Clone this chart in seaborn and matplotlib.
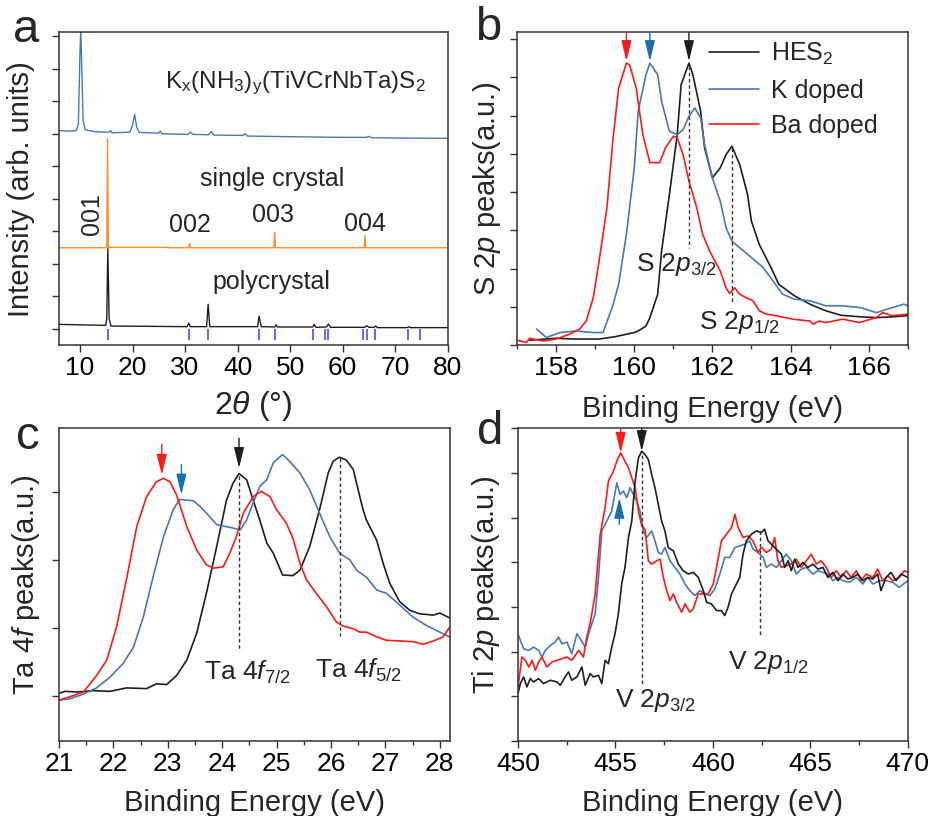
import numpy as np
import pandas as pd
import matplotlib
matplotlib.use("Agg")
import matplotlib.pyplot as plt
import seaborn as sns
from matplotlib.ticker import MultipleLocator, NullFormatter

sns.set_style("ticks")
plt.rcParams['font.family'] = ['Liberation Sans', 'DejaVu Sans']
plt.rcParams['mathtext.fontset'] = 'custom'
plt.rcParams['mathtext.rm'] = 'Liberation Sans'
plt.rcParams['mathtext.it'] = 'Liberation Sans:italic'
plt.rcParams['mathtext.default'] = 'regular'

# ---------------- data: panel a (XRD) ----------------
xrd_k_x = [6, 8, 9.3, 9.7, 10.0, 10.15, 10.35, 10.6, 11.0, 13, 15.5, 15.8, 16.1, 19.5, 20.0, 20.4, 20.8, 21.3,
           25, 25.3, 25.6, 30.5, 31, 31.5, 34.5, 35, 35.5, 41, 41.4, 41.9, 50, 60, 64.5, 65, 65.5, 70, 80]
xrd_k_y = [6.1, 6.08, 6.1, 6.3, 8.5, 9.2, 8.0, 6.4, 6.12, 6.06, 6.05, 6.1, 6.03, 6.05, 6.25, 6.6, 6.2, 6.04,
           6.02, 6.08, 6.0, 5.98, 6.05, 5.98, 5.97, 6.07, 5.96, 5.95, 6.0, 5.93, 5.91, 5.89, 5.89, 5.92, 5.88, 5.87, 5.86]
xrd_sc_x = [6, 15.1, 15.25, 15.4, 26.5, 26.7, 26.9, 30.7, 30.85, 31.0, 46.9, 47.05, 47.2, 64.1, 64.25, 64.4, 80]
xrd_sc_y = [2.49, 2.49, 5.85, 2.5, 2.5, 2.52, 2.49, 2.49, 2.62, 2.49, 2.49, 2.97, 2.49, 2.49, 2.87, 2.49, 2.49]
xrd_pc_x = [6, 14.9, 15.1, 15.3, 15.55, 15.9, 30.4, 30.7, 31.0, 34.1, 34.4, 34.7, 43.8, 44.1, 44.5, 47.1, 47.3, 47.6,
            54.3, 54.6, 54.9, 56.9, 57.3, 57.7, 64.2, 64.6, 65.0, 66.0, 66.3, 66.6, 72.3, 72.6, 72.9, 80]
xrd_pc_y = [0.13, 0.1, 0.3, 2.46, 0.3, 0.08, 0.06, 0.17, 0.06, 0.06, 0.75, 0.06, 0.06, 0.38, 0.06, 0.05, 0.12, 0.05,
            0.05, 0.13, 0.04, 0.05, 0.14, 0.04, 0.04, 0.09, 0.04, 0.04, 0.08, 0.03, 0.03, 0.06, 0.03, 0.03]
ref_peaks = [15.3, 30.7, 34.4, 44.1, 47.2, 54.4, 56.6, 57.3, 63.9, 64.6, 66.2, 72.5, 74.8]
hkl_labels = ["001", "002", "003", "004"]

# ---------------- data: panel b (S 2p) ----------------
s_hes_x = [157.32, 158.0, 158.5, 159.1, 159.5, 160.0, 160.1, 160.3, 160.4, 160.6, 160.7, 160.9, 161.1, 161.2, 161.4,
           161.5, 161.7, 161.8, 162.0, 162.2, 162.35, 162.5, 162.7, 162.9, 163.0, 163.2, 163.5, 163.7, 164.1, 164.5,
           164.9, 165.3, 165.8, 166.2, 166.6, 167.0]
s_hes_y = [0.13, 0.18, 0.16, 0.16, 0.22, 0.33, 0.37, 0.5, 0.72, 1.33, 2.46, 3.94, 5.5, 6.81, 7.37, 7.07, 6.11, 5.16,
           4.37, 4.63, 4.98, 5.2, 4.72, 3.94, 3.24, 2.63, 2.03, 1.59, 1.29, 1.07, 0.9, 0.78, 0.74, 0.72, 0.74, 0.77]
s_k_x = [157.5, 157.75, 158.1, 158.5, 158.95, 159.2, 159.45, 159.6, 159.8, 160.0, 160.1, 160.3, 160.4, 160.6, 160.7,
         160.9, 161.1, 161.25, 161.4, 161.55, 161.7, 161.8, 162.0, 162.2, 162.35, 162.5, 162.8, 163.0, 163.3, 163.55,
         163.8, 164.1, 164.5, 164.9, 165.3, 165.8, 166.2, 166.6, 166.9, 167.0]
s_k_y = [0.42, 0.2, 0.33, 0.37, 0.33, 0.33, 1.03, 1.59, 2.9, 4.63, 6.11, 7.07, 7.37, 7.07, 6.37, 5.59, 5.5, 5.63,
         5.98, 6.2, 5.94, 5.24, 4.37, 3.77, 3.07, 2.72, 2.46, 2.29, 2.03, 1.68, 1.33, 1.2, 1.16, 1.03, 1.03, 0.98,
         0.85, 0.98, 1.07, 1.03]
s_ba_x = [157.0, 157.24, 157.32, 157.66, 158.0, 158.35, 158.6, 158.77, 158.95, 159.1, 159.3, 159.45, 159.6, 159.8,
          159.88, 160.05, 160.22, 160.4, 160.65, 160.8, 161.0, 161.1, 161.25, 161.4, 161.6, 161.75, 161.93, 162.2,
          162.35, 162.44, 162.57, 162.7, 162.87, 163.04, 163.2, 163.38, 163.63, 164.06, 164.5, 164.57, 164.74, 164.9,
          165.34, 165.76, 166.19, 166.36, 166.6, 167.0]
s_ba_y = [0.13, 0.07, 0.18, 0.11, 0.16, 0.29, 0.42, 0.63, 1.24, 2.2, 3.59, 5.33, 6.72, 7.37, 7.33, 6.72, 5.5, 4.77,
          4.77, 5.16, 5.46, 5.42, 4.98, 4.29, 3.59, 2.9, 2.46, 1.94, 1.5, 1.35, 1.5, 1.33, 1.24, 1.16, 0.9, 0.81,
          0.77, 0.68, 0.63, 0.55, 0.63, 0.59, 0.68, 0.59, 0.72, 0.85, 0.77, 0.81]
s_peaks = [161.4, 162.5]
s_shift = {"Ba": 159.8, "K": 160.4, "HES": 161.4}

# ---------------- data: panel c (Ta 4f) ----------------
ta_hes_x = [21.0, 21.11, 21.32, 21.63, 21.94, 22.24, 22.61, 22.79, 22.98, 23.16, 23.35, 23.53, 23.71, 23.9, 24.08,
            24.2, 24.31, 24.45, 24.57, 24.69, 24.82, 24.94, 25.11, 25.3, 25.43, 25.61, 25.79, 25.95, 26.04, 26.15,
            26.28, 26.41, 26.53, 26.59, 26.65, 26.84, 26.96, 27.08, 27.26, 27.45, 27.63, 27.88, 28.0, 28.18]
ta_hes_y = [0.04, 0.07, 0.06, 0.08, 0.07, 0.12, 0.11, 0.18, 0.17, 0.3, 0.53, 0.92, 1.51, 2.2, 2.88, 3.13, 3.27,
            3.18, 2.88, 2.59, 2.25, 2.1, 1.78, 1.77, 1.85, 2.2, 2.74, 3.28, 3.45, 3.51, 3.47, 3.33, 2.93, 2.74, 2.59,
            2.29, 1.95, 1.66, 1.39, 1.26, 1.21, 1.19, 1.22, 1.15]
ta_k_x = [21.0, 21.2, 21.45, 21.69, 21.94, 22.18, 22.37, 22.55, 22.73, 22.92, 23.1, 23.22, 23.35, 23.47, 23.59,
          23.71, 23.9, 24.08, 24.2, 24.33, 24.45, 24.57, 24.69, 24.82, 24.94, 25.11, 25.24, 25.43, 25.61, 25.79,
          25.98, 26.16, 26.35, 26.47, 26.65, 26.84, 27.02, 27.26, 27.51, 27.75, 28.0, 28.18]
ta_k_y = [-0.06, -0.04, 0.03, 0.12, 0.28, 0.48, 0.72, 1.16, 1.75, 2.34, 2.74, 2.89, 2.88, 2.87, 2.79, 2.69, 2.52,
          2.49, 2.47, 2.44, 2.59, 2.84, 3.08, 3.18, 3.43, 3.55, 3.45, 3.28, 3.03, 2.69, 2.34, 2.1, 2.0, 1.85, 1.75,
          1.56, 1.51, 1.34, 1.16, 1.04, 0.94, 0.87]
ta_ba_x = [21.0, 21.2, 21.45, 21.69, 21.88, 22.06, 22.24, 22.43, 22.61, 22.79, 22.92, 23.04, 23.16, 23.35, 23.53,
           23.71, 23.84, 24.02, 24.14, 24.26, 24.39, 24.57, 24.72, 24.88, 25.0, 25.18, 25.3, 25.43, 25.55, 25.73,
           25.92, 26.1, 26.22, 26.41, 26.53, 26.65, 26.84, 27.02, 27.26, 27.51, 27.69, 27.88, 28.06, 28.18]
ta_ba_y = [-0.06, -0.01, 0.06, 0.3, 0.53, 1.02, 1.71, 2.49, 2.93, 3.15, 3.2, 3.15, 2.96, 2.49, 2.15, 1.93, 1.88,
           1.9, 2.1, 2.34, 2.69, 2.93, 3.01, 2.93, 2.74, 2.54, 2.32, 1.95, 1.71, 1.51, 1.31, 1.09, 1.03, 0.99, 0.94,
           0.94, 0.87, 0.82, 0.81, 0.8, 0.76, 0.81, 0.87, 1.01]
ta_peaks = [24.31, 26.17]
ta_shift = {"Ba": 22.89, "K": 23.25, "HES": 24.31}

# ---------------- data: panel d (Ti 2p / V 2p) ----------------
ti_hes_x = [450.00, 450.12, 450.29, 450.46, 450.63, 450.80, 451.06, 451.31, 451.66, 452.00, 452.17, 452.42, 452.59,
            452.76, 453.02, 453.28, 453.45, 453.70, 453.87, 454.13, 454.30, 454.47, 454.64, 454.81, 454.98, 455.15,
            455.32, 455.49, 455.67, 455.84, 456.01, 456.18, 456.35, 456.52, 456.69, 456.86, 457.03, 457.20, 457.37,
            457.54, 457.71, 457.97, 458.23, 458.48, 458.74, 459.00, 459.25, 459.51, 459.68, 459.93, 460.19, 460.44,
            460.61, 460.78, 460.96, 461.21, 461.38, 461.55, 461.72, 461.98, 462.24, 462.49, 462.66, 462.83, 463.00,
            463.17, 463.34, 463.52, 463.69, 463.86, 464.03, 464.20, 464.37, 464.62, 464.88, 465.14, 465.39, 465.65,
            465.90, 466.16, 466.42, 466.67, 466.93, 467.18, 467.44, 467.70, 467.95, 468.21, 468.46, 468.63, 468.89,
            469.15, 469.40, 469.66, 470.00]
ti_hes_y = [8, 38, 58, 28, 53, 43, 53, 38, 48, 43, 33, 58, 73, 48, 58, 88, 33, 68, 58, 63, 38, 108, 98, 148, 188,
            248, 338, 388, 478, 528, 648, 718, 738, 728, 713, 668, 628, 578, 528, 498, 448, 438, 398, 378, 368, 373,
            358, 318, 283, 278, 258, 258, 243, 268, 308, 338, 358, 428, 468, 488, 498, 493, 503, 468, 458, 448, 438,
            428, 388, 408, 378, 413, 388, 403, 388, 398, 383, 388, 358, 373, 348, 368, 353, 358, 368, 348, 358, 353,
            368, 318, 358, 373, 348, 368, 358]
ti_k_x = [450.00, 450.12, 450.29, 450.55, 450.80, 451.06, 451.23, 451.40, 451.66, 451.91, 452.08, 452.25, 452.51,
          452.76, 453.02, 453.19, 453.45, 453.62, 453.79, 453.96, 454.13, 454.30, 454.56, 454.81, 455.07, 455.24,
          455.41, 455.58, 455.75, 455.92, 456.09, 456.26, 456.43, 456.60, 456.86, 457.03, 457.20, 457.37, 457.54,
          457.80, 458.05, 458.31, 458.57, 458.82, 459.08, 459.33, 459.59, 459.85, 460.10, 460.36, 460.61, 460.87,
          461.13, 461.38, 461.64, 461.89, 462.06, 462.32, 462.58, 462.75, 463.00, 463.26, 463.52, 463.77, 464.03,
          464.28, 464.54, 464.80, 465.14, 465.39, 465.65, 465.90, 466.16, 466.42, 466.67, 467.01, 467.36, 467.70,
          467.95, 468.21, 468.55, 468.89, 469.23, 469.57, 470.00]
ti_k_y = [188, 168, 143, 138, 148, 138, 118, 138, 153, 163, 178, 158, 163, 128, 188, 173, 148, 188, 218, 248, 358,
          498, 528, 558, 643, 608, 618, 598, 628, 608, 588, 558, 498, 478, 498, 468, 433, 428, 448, 408, 388, 368,
          338, 318, 303, 318, 308, 303, 323, 368, 418, 418, 448, 453, 458, 468, 443, 433, 418, 388, 398, 388, 408,
          428, 408, 368, 383, 388, 368, 378, 373, 368, 348, 358, 348, 343, 358, 338, 358, 338, 348, 348, 343, 328, 348]
ti_ba_x = [450.00, 450.20, 450.38, 450.55, 450.72, 450.89, 451.06, 451.23, 451.48, 451.74, 452.00, 452.25, 452.51,
           452.76, 452.94, 453.11, 453.36, 453.53, 453.70, 453.96, 454.22, 454.47, 454.64, 454.90, 455.07, 455.27,
           455.49, 455.67, 455.84, 456.01, 456.18, 456.35, 456.52, 456.69, 456.86, 457.12, 457.29, 457.46, 457.63,
           457.80, 457.97, 458.14, 458.40, 458.57, 458.82, 458.99, 459.25, 459.51, 459.76, 460.02, 460.19, 460.44,
           460.70, 460.96, 461.13, 461.30, 461.55, 461.81, 462.06, 462.32, 462.49, 462.75, 463.00, 463.17, 463.34,
           463.52, 463.77, 464.03, 464.28, 464.54, 464.80, 465.05, 465.31, 465.56, 465.82, 466.07, 466.33, 466.59,
           466.84, 467.10, 467.36, 467.61, 467.87, 468.21, 468.46, 468.72, 468.98, 469.23, 469.57, 469.83, 470.00]
ti_ba_y = [28, 118, 108, 88, 108, 78, 103, 118, 88, 103, 108, 113, 118, 108, 123, 138, 118, 178, 218, 308, 488, 568,
           648, 678, 708, 733, 708, 688, 658, 628, 558, 513, 503, 408, 398, 408, 413, 358, 318, 288, 308, 283, 253,
           278, 253, 263, 308, 308, 308, 338, 388, 468, 488, 508, 548, 508, 478, 483, 468, 433, 448, 433, 443, 478,
           408, 388, 393, 398, 413, 388, 408, 428, 398, 408, 388, 358, 378, 358, 378, 358, 378, 348, 368, 358, 383,
           348, 363, 348, 358, 378, 373]
v_peaks = [456.35, 462.44]
ti_shift = {"Ba": 455.27, "K": 455.2, "HES": 456.35}

labels = ["HES$_2$", "K doped", "Ba doped"]
C_BLACK = "#1e1e1e"
C_BLUE = "#4a78ae"
C_RED = "#ff1a1a"
C_ORANGE = "#ff8c2e"
C_REF = "#4b4bff"
C_ARROW_BLUE = "#1b6db3"

TICK_FS = 19
LABEL_FS = 21
ANN_FS = 17.5
XPS_FS = 19

fig = plt.figure(figsize=(9.3, 8.16), dpi=100)
ax_a = fig.add_axes([0.0634, 0.577, 0.418, 0.3836])
ax_b = fig.add_axes([0.556, 0.577, 0.420, 0.3836])
ax_c = fig.add_axes([0.0634, 0.0919, 0.420, 0.3836])
ax_d = fig.add_axes([0.557, 0.0919, 0.419, 0.3836])

for ax in (ax_a, ax_b, ax_c, ax_d):
    for sp in ax.spines.values():
        sp.set_linewidth(1.1)
        sp.set_color("#333333")
    ax.tick_params(direction="out", length=5, width=1.0, colors="#333333",
                   labelsize=TICK_FS, labelcolor="black", pad=3)
    ax.tick_params(which="minor", direction="out", length=3, width=1.0, colors="#333333")
    ax.yaxis.set_major_formatter(NullFormatter())

LW = 1.2

# ---- panel a ----
sns.lineplot(x=xrd_k_x, y=xrd_k_y, ax=ax_a, color=C_BLUE, lw=1.0, sort=False, estimator=None)
sns.lineplot(x=xrd_sc_x, y=xrd_sc_y, ax=ax_a, color=C_ORANGE, lw=1.0, sort=False, estimator=None)
sns.lineplot(x=xrd_pc_x, y=xrd_pc_y, ax=ax_a, color=C_BLACK, lw=1.0, sort=False, estimator=None)
ax_a.vlines(ref_peaks, -0.36, 0.0, color=C_REF, lw=1.2)
ax_a.set_xlim(6, 80)
ax_a.set_ylim(-0.51, 9.13)
ax_a.set_xticks(range(10, 81, 10))
ax_a.set_yticks(range(0, 10))
ax_a.set_xlabel(r"2$\mathit{\theta}$ (°)", fontsize=LABEL_FS + 2)
ax_a.xaxis.set_label_coords(0.5, -0.14)
ax_a.set_ylabel("Intensity (arb. units)", fontsize=LABEL_FS)
ax_a.yaxis.set_label_coords(-0.062, 0.5)
ax_a.text(26.2, 7.54, r"K$_\mathrm{x}$(NH$_3$)$_\mathrm{y}$(TiVCrNbTa)S$_2$", fontsize=ANN_FS,
          ha="left", va="center")
ax_a.text(46.5, 4.6, "single crystal", fontsize=ANN_FS + 0.5, ha="center", va="center")
ax_a.text(46.5, 1.44, "polycrystal", fontsize=ANN_FS + 0.5, ha="center", va="center")
ax_a.text(12.2, 3.54, hkl_labels[0], fontsize=ANN_FS + 0.5, ha="center", va="center", rotation=90)
ax_a.text(30.9, 3.18, hkl_labels[1], fontsize=ANN_FS + 0.5, ha="center", va="center")
ax_a.text(46.8, 3.49, hkl_labels[2], fontsize=ANN_FS + 0.5, ha="center", va="center")
ax_a.text(64.3, 3.23, hkl_labels[3], fontsize=ANN_FS + 0.5, ha="center", va="center")


def arrow(ax, x, y_tail, y_tip, color):
    ax.annotate("", xy=(x, y_tip), xytext=(x, y_tail),
                arrowprops=dict(arrowstyle="-|>,head_length=0.9,head_width=0.22", color=color,
                                lw=1.0, mutation_scale=14, shrinkA=0, shrinkB=0),
                annotation_clip=False)


def vdash(ax, x, y0, y1):
    ax.plot([x, x], [y0, y1], color="#333333", lw=1.0, ls=(0, (2.5, 2)))


# ---- panel b ----
sns.lineplot(x=s_hes_x, y=s_hes_y, ax=ax_b, color=C_BLACK, lw=LW, sort=False, estimator=None, label=labels[0])
sns.lineplot(x=s_k_x, y=s_k_y, ax=ax_b, color=C_BLUE, lw=LW, sort=False, estimator=None, label=labels[1])
sns.lineplot(x=s_ba_x, y=s_ba_y, ax=ax_b, color=C_RED, lw=LW, sort=False, estimator=None, label=labels[2])
ax_b.set_xlim(157, 167)
ax_b.set_ylim(0, 8.18)
ax_b.xaxis.set_major_locator(MultipleLocator(2))
ax_b.xaxis.set_minor_locator(MultipleLocator(1))
ax_b.set_yticks(range(0, 9))
ax_b.set_xlabel("Binding Energy (eV)", fontsize=LABEL_FS)
ax_b.xaxis.set_label_coords(0.5, -0.158)
ax_b.set_ylabel(r"S 2$\mathit{p}$ peaks(a.u.)", fontsize=LABEL_FS)
ax_b.yaxis.set_label_coords(-0.036, 0.5)
ax_b.legend(loc="upper left", bbox_to_anchor=(0.44, 1.035), frameon=False, fontsize=ANN_FS + 0.5,
            handlelength=2.0, handletextpad=0.5, labelspacing=0.45, borderaxespad=0.4)
arrow(ax_b, s_shift["Ba"], 8.16, 7.42, C_RED)
arrow(ax_b, s_shift["K"], 8.16, 7.42, C_ARROW_BLUE)
arrow(ax_b, s_shift["HES"], 8.16, 7.42, C_BLACK)
vdash(ax_b, s_peaks[0], 7.3, 2.55)
vdash(ax_b, s_peaks[1], 5.16, 1.07)
ax_b.text(160.05, 2.1, r"S 2$\mathit{p}_{3/2}$", fontsize=XPS_FS, ha="left", va="center")
ax_b.text(161.65, 0.6, r"S 2$\mathit{p}_{1/2}$", fontsize=XPS_FS, ha="left", va="center")

# ---- panel c ----
sns.lineplot(x=ta_hes_x, y=ta_hes_y, ax=ax_c, color=C_BLACK, lw=LW, sort=False, estimator=None)
sns.lineplot(x=ta_k_x, y=ta_k_y, ax=ax_c, color=C_BLUE, lw=LW, sort=False, estimator=None)
sns.lineplot(x=ta_ba_x, y=ta_ba_y, ax=ax_c, color=C_RED, lw=LW, sort=False, estimator=None)
ax_c.set_xlim(21, 28.18)
ax_c.set_ylim(-0.66, 3.94)
ax_c.xaxis.set_major_locator(MultipleLocator(1))
ax_c.xaxis.set_minor_locator(MultipleLocator(0.5))
ax_c.set_yticks([0, 1, 2, 3])
ax_c.set_xlabel("Binding Energy (eV)", fontsize=LABEL_FS)
ax_c.xaxis.set_label_coords(0.5, -0.152)
ax_c.set_ylabel(r"Ta 4$\mathit{f}$ peaks(a.u.)", fontsize=LABEL_FS)
ax_c.yaxis.set_label_coords(-0.043, 0.5)
arrow(ax_c, ta_shift["Ba"], 3.7, 3.25, C_RED)
arrow(ax_c, ta_shift["K"], 3.4, 2.96, C_ARROW_BLUE)
arrow(ax_c, ta_shift["HES"], 3.79, 3.35, C_BLACK)
vdash(ax_c, ta_peaks[0], 3.23, 0.67)
vdash(ax_c, ta_peaks[1], 3.5, 0.89)
ax_c.text(23.66, 0.35, r"Ta 4$\mathit{f}_{7/2}$", fontsize=XPS_FS, ha="left", va="center")
ax_c.text(25.71, 0.38, r"Ta 4$\mathit{f}_{5/2}$", fontsize=XPS_FS, ha="left", va="center")

# ---- panel d ----
sns.lineplot(x=ti_k_x, y=ti_k_y, ax=ax_d, color=C_BLUE, lw=LW, sort=False, estimator=None)
sns.lineplot(x=ti_ba_x, y=ti_ba_y, ax=ax_d, color=C_RED, lw=LW, sort=False, estimator=None)
sns.lineplot(x=ti_hes_x, y=ti_hes_y, ax=ax_d, color=C_BLACK, lw=LW, sort=False, estimator=None)
ax_d.set_xlim(450, 470)
ax_d.set_ylim(-135, 808)
ax_d.xaxis.set_major_locator(MultipleLocator(5))
ax_d.xaxis.set_minor_locator(MultipleLocator(2.5))
ax_d.set_yticks([-134.5 + 134.5 * k for k in range(8)])
ax_d.set_xlabel("Binding Energy (eV)", fontsize=LABEL_FS)
ax_d.xaxis.set_label_coords(0.5, -0.152)
ax_d.set_ylabel(r"Ti 2$\mathit{p}$ peaks(a.u.)", fontsize=LABEL_FS)
ax_d.yaxis.set_label_coords(-0.041, 0.5)
arrow(ax_d, ti_shift["Ba"], 808, 733, C_RED)
arrow(ax_d, ti_shift["HES"], 808, 738, C_BLACK)
arrow(ax_d, ti_shift["K"], 518, 598, C_ARROW_BLUE)
vdash(ax_d, v_peaks[0], 728, 38)
vdash(ax_d, v_peaks[1], 498, 183)
ax_d.text(455.0, -12, r"V 2$\mathit{p}_{3/2}$", fontsize=XPS_FS, ha="left", va="center")
ax_d.text(460.8, 103, r"V 2$\mathit{p}_{1/2}$", fontsize=XPS_FS, ha="left", va="center")

# panel letters
for lab, (px, py) in {"a": (26, 30), "b": (488, 28), "c": (28, 437), "d": (490, 432)}.items():
    fig.text(px / 930, 1 - py / 816, lab, fontsize=34, ha="center", va="center")

fig.savefig("out.png", dpi=100)
